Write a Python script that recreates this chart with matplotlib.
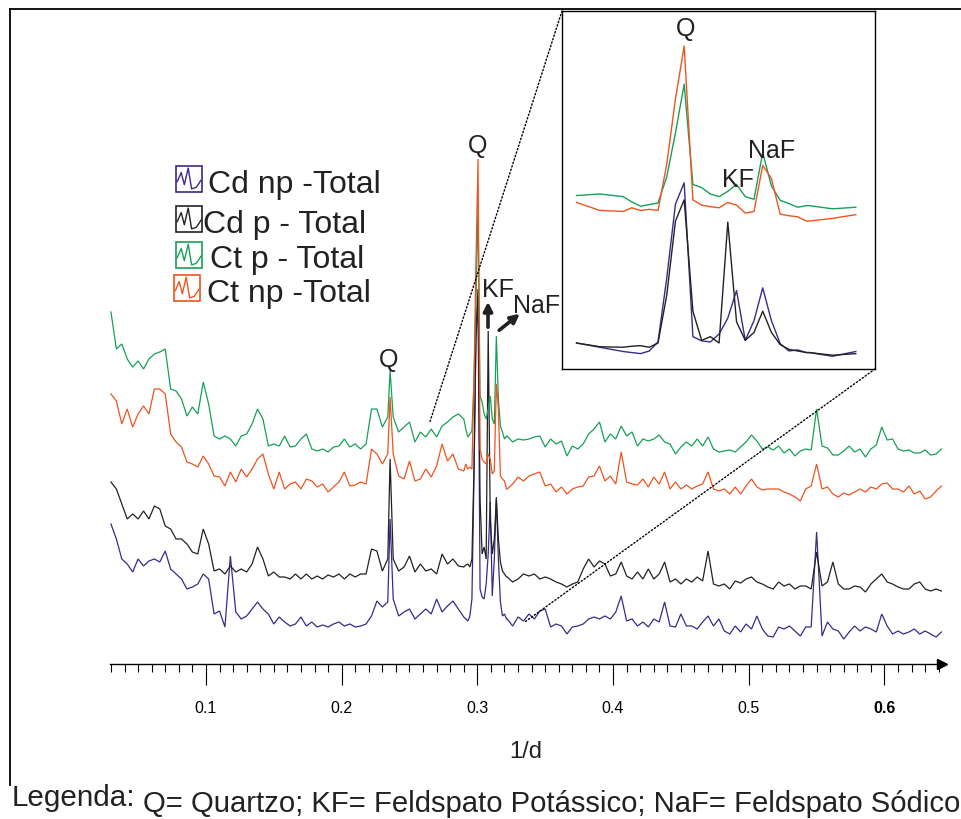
import numpy as np
import matplotlib
matplotlib.use("Agg")
import matplotlib.pyplot as plt
from matplotlib.patches import Rectangle, ConnectionPatch, FancyArrowPatch
from matplotlib.lines import Line2D

# ---------------- data (1/d vs. relative intensity) ----------------
X_LOW = np.linspace(0.030, 0.286, 65)      # sampling grid below the main peaks
X_PEAK = np.linspace(0.290, 0.3215, 22)    # finer sampling around Q / KF / NaF
X_HIGH = np.linspace(0.322, 0.642, 81)     # sampling grid above the main peaks
Q_SMALL_X = 0.2357                         # secondary quartz reflection

series_names = ["Cd np -Total", "Cd p - Total", "Ct p - Total", "Ct np -Total"]
series_colors = ["#3a2a8a", "#222222", "#17a058", "#ee5420"]

ct_p_low = [387, 350, 355, 340, 332, 338, 330, 340, 345, 347,
            350, 310, 308, 300, 283, 292, 285, 317, 295, 263,
            260, 263, 260, 253, 263, 265, 275, 290, 280, 253,
            255, 253, 263, 252, 253, 260, 265, 250, 248, 250,
            247, 252, 253, 260, 252, 255, 250, 255, 290, 290,
            272, 282, 282, 267, 272, 277, 257, 267, 262, 270,
            262, 273, 277, 282, 285]
ct_p_q = 328
ct_p_peak = [280, 270, 262, 265, 268, 317, 400, 492, 303, 297, 285,
             280, 290, 303, 280, 275, 363, 300, 273, 267, 260, 263]
ct_p_high = [263, 257, 260, 259, 260, 262, 263, 252, 260, 255,
             258, 243, 253, 250, 255, 265, 270, 277, 257, 265,
             260, 273, 263, 267, 253, 260, 258, 260, 264, 257,
             255, 245, 252, 257, 253, 260, 253, 262, 250, 247,
             248, 249, 247, 252, 257, 264, 258, 250, 252, 249,
             253, 246, 250, 243, 248, 250, 249, 290, 253, 251,
             244, 244, 248, 253, 247, 250, 242, 250, 254, 272,
             259, 260, 250, 248, 249, 246, 246, 249, 244, 245,
             250]

ct_np_low = [305, 298, 275, 290, 272, 285, 293, 285, 310, 310,
             305, 265, 257, 252, 237, 235, 232, 243, 235, 223,
             222, 213, 227, 217, 230, 222, 230, 240, 245, 225,
             210, 227, 210, 215, 217, 210, 220, 218, 212, 215,
             207, 212, 217, 227, 213, 214, 217, 215, 250, 245,
             235, 245, 245, 223, 220, 238, 218, 220, 230, 222,
             233, 255, 238, 245, 230]
ct_np_q = 302
ct_np_peak = [228, 235, 230, 232, 230, 317, 440, 540, 250, 240, 237,
              235, 245, 240, 225, 228, 315, 290, 223, 220, 218, 210]
ct_np_high = [210, 215, 222, 218, 223, 225, 227, 213, 215, 207,
              212, 205, 210, 212, 213, 222, 223, 233, 218, 223,
              215, 247, 217, 215, 214, 220, 212, 222, 215, 227,
              210, 217, 210, 214, 210, 213, 215, 227, 210, 208,
              210, 205, 212, 205, 213, 220, 212, 209, 210, 210,
              210, 207, 205, 202, 198, 210, 213, 235, 210, 212,
              205, 202, 206, 204, 207, 210, 207, 212, 210, 215,
              216, 210, 210, 207, 213, 205, 208, 200, 202, 208,
              213]

cd_p_low = [217, 210, 195, 180, 185, 180, 188, 180, 193, 190,
            173, 170, 160, 160, 155, 147, 145, 170, 155, 128,
            130, 125, 133, 127, 130, 127, 135, 152, 140, 123,
            127, 122, 122, 120, 125, 120, 125, 120, 123, 120,
            124, 122, 125, 120, 125, 122, 125, 125, 150, 148,
            128, 140, 140, 128, 132, 143, 127, 135, 128, 130,
            125, 145, 135, 140, 133]
cd_p_q = 240
cd_p_peak = [132, 134, 135, 132, 140, 230, 370, 410, 200, 145, 152,
             140, 368, 180, 145, 160, 200, 160, 137, 128, 125, 122]
cd_p_high = [122, 117, 120, 125, 123, 125, 120, 122, 120, 117,
             115, 112, 115, 117, 130, 140, 132, 138, 135, 123,
             125, 137, 123, 120, 127, 120, 130, 120, 125, 137,
             117, 120, 115, 120, 117, 122, 118, 148, 115, 113,
             115, 110, 118, 116, 120, 122, 117, 115, 112, 110,
             117, 113, 115, 110, 113, 113, 110, 147, 113, 117,
             137, 115, 110, 110, 113, 112, 107, 115, 120, 125,
             117, 115, 112, 110, 110, 115, 117, 110, 108, 110,
             108]

cd_np_low = [175, 160, 140, 135, 127, 140, 133, 138, 140, 137,
             148, 130, 125, 120, 110, 112, 115, 125, 120, 85,
             88, 72, 143, 87, 80, 83, 90, 97, 90, 85,
             75, 82, 77, 73, 75, 82, 73, 77, 72, 74,
             72, 75, 77, 73, 75, 72, 73, 75, 83, 98,
             92, 97, 100, 83, 87, 90, 80, 85, 90, 85,
             100, 87, 93, 98, 90]
cd_np_q = 180
cd_np_peak = [82, 80, 78, 83, 100, 220, 360, 400, 110, 102, 100,
              115, 145, 197, 103, 140, 202, 140, 97, 83, 85, 80]
cd_np_high = [80, 73, 82, 78, 85, 80, 88, 90, 72, 75,
              73, 65, 72, 73, 75, 80, 82, 80, 83, 80,
              87, 103, 78, 80, 73, 77, 72, 80, 77, 97,
              73, 72, 85, 73, 73, 70, 77, 83, 73, 80,
              68, 65, 73, 67, 75, 70, 83, 70, 63, 62,
              72, 70, 73, 68, 63, 72, 72, 167, 63, 77,
              70, 68, 60, 67, 73, 68, 72, 70, 67, 85,
              73, 65, 68, 65, 67, 70, 65, 68, 65, 62,
              67]

tick_values = [0.1, 0.2, 0.3, 0.4, 0.5, 0.6]
tick_labels = ["0.1", "0.2", "0.3", "0.4", "0.5", "0.6"]
inset_offsets = [-118, -160, -24, 0]   # vertical display shift of each trace in the inset


def build(low, q, peak, high):
    x = np.concatenate([X_LOW, [Q_SMALL_X], X_PEAK, X_HIGH])
    y = np.concatenate([low, [q], peak, high]).astype(float)
    o = np.argsort(x, kind="stable")
    return x[o], y[o]


traces = [build(cd_np_low, cd_np_q, cd_np_peak, cd_np_high),
          build(cd_p_low, cd_p_q, cd_p_peak, cd_p_high),
          build(ct_p_low, ct_p_q, ct_p_peak, ct_p_high),
          build(ct_np_low, ct_np_q, ct_np_peak, ct_np_high)]

# ---------------- figure ----------------
W, H = 961, 820
fig = plt.figure(figsize=(W / 100, H / 100), dpi=100)
fig.patch.set_facecolor("white")


def fx(px):
    return px / W


def fy(py):
    return 1 - py / H


SANS = ["Liberation Sans", "DejaVu Sans"]

ax = fig.add_axes([fx(110), fy(665), fx(942) - fx(110), fy(10) - fy(665)])
ax.set_xlim(0.0293, 0.6424)
ax.set_ylim(35, 690)
for s in ["left", "right", "top"]:
    ax.spines[s].set_visible(False)
ax.spines["bottom"].set_linewidth(1.0)
ax.set_yticks([])
ax.set_xticks(tick_values)
ax.set_xticklabels(tick_labels, fontsize=11.5, family=SANS)
ax.get_xticklabels()[-1].set_fontweight("bold")
minor = [v for v in np.round(np.arange(0.03, 0.6424, 0.01), 3)
         if not np.any(np.isclose(v, tick_values))]
ax.set_xticks(minor, minor=True)
ax.tick_params(axis="x", which="major", direction="out", length=15, width=0.8, pad=11)
ax.tick_params(axis="x", which="minor", direction="out", length=6, width=0.8)
ax.patch.set_alpha(0)

for (x, y), c in zip(traces, series_colors):
    ax.plot(x, y, color=c, lw=0.9, solid_joinstyle="miter")

# axis arrow head
ax.plot([0.6424], [35], marker=">", markersize=7, color="black", clip_on=False)

# ---------------- inset ----------------
axi = fig.add_axes([fx(562), fy(370), fx(875) - fx(562), fy(12) - fy(370)])
axi.set_xlim(0.2795, 0.3333)
axi.set_ylim(-69, 606)
axi.set_xticks([])
axi.set_yticks([])
for s in axi.spines.values():
    s.set_linewidth(1.0)
for (x, y), c, off in zip(traces, series_colors, inset_offsets):
    m = (x >= 0.281) & (x <= 0.3305)
    axi.plot(x[m], y[m] + off, color=c, lw=1.0)

for xyA, xyB in [((0, 1), (0.265, 277)), ((1, 0), (0.335, 77))]:
    con = ConnectionPatch(xyA=xyA, coordsA=axi.transAxes, xyB=xyB, coordsB=ax.transData,
                          linestyle=(0, (1, 1.6)), lw=1.0, color="black")
    fig.add_artist(con)

# ---------------- annotations ----------------
def ftext(px, py, s, size, ha="left", va="baseline", family=SANS, **kw):
    return fig.text(fx(px), fy(py), s, fontsize=size, ha=ha, va=va, family=family,
                    color="#222222", **kw)


ftext(478, 153, "Q", 18, ha="center")
ftext(389, 367, "Q", 18, ha="center")
ftext(498, 297, "KF", 18, ha="center")
ftext(537, 313, "NaF", 18, ha="center")
ftext(686, 36, "Q", 18, ha="center")
ftext(738, 187, "KF", 18, ha="center")
ftext(772, 158, "NaF", 18, ha="center")

for (a, b) in [((488, 331), (488, 300)), ((497, 333), (522, 313))]:
    arr = FancyArrowPatch(posA=(fx(a[0]), fy(a[1])), posB=(fx(b[0]), fy(b[1])),
                          transform=fig.transFigure, arrowstyle="-|>",
                          mutation_scale=13, lw=2.6, color="#222222")
    fig.add_artist(arr)

# ---------------- legend ----------------
legend_rows = [(176, 167, 208, 193), (176, 207, 203, 233), (176, 243, 210, 268), (174, 276, 207, 302)]
zig_x = [0.05, 0.2, 0.32, 0.47, 0.6, 0.78, 0.96]
zig_y = [0.6, 0.25, 0.72, 0.08, 0.88, 0.82, 0.55]
for (bx, by, tx, tb), name, c in zip(legend_rows, series_names, series_colors):
    bw, bh = 26, 26
    fig.add_artist(Rectangle((fx(bx), fy(by + bh)), bw / W, bh / H, transform=fig.transFigure,
                             fill=False, edgecolor=c, lw=1.2))
    fig.add_artist(Line2D([fx(bx + bw * u) for u in zig_x], [fy(by + bh * v) for v in zig_y],
                          transform=fig.transFigure, color=c, lw=1.0))
    ftext(tx, tb, name, 23)

# ---------------- axis title & caption ----------------
ftext(526, 752, "1/d", 17, ha="center", va="center")

renderer = fig.canvas.get_renderer()


def fit(t, target_w):
    w = t.get_window_extent(renderer).width
    t.set_fontsize(t.get_fontsize() * target_w / w)


t1 = ftext(12, 806, "Legenda:", 18)
fit(t1, 123)
t2 = ftext(143, 812, "Q= Quartzo; KF= Feldspato Potássico; NaF= Feldspato Sódico", 18)
fit(t2, 815)

# frame lines of the original figure
fig.add_artist(Line2D([fx(10), 1.0], [fy(10), fy(10)], transform=fig.transFigure, color="black", lw=1.3))
fig.add_artist(Line2D([fx(10), fx(10)], [fy(10), fy(786)], transform=fig.transFigure, color="black", lw=1.3))

fig.savefig("out.png", dpi=100)
